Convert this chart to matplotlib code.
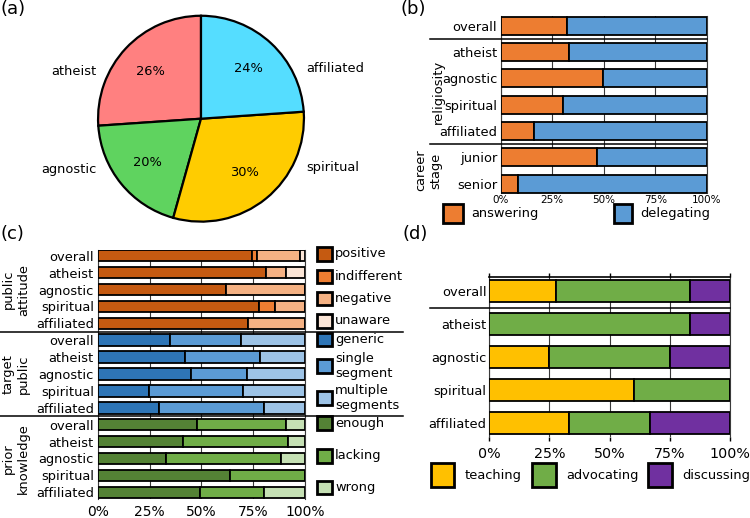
import matplotlib
matplotlib.use('Agg')
import matplotlib.pyplot as plt
import numpy as np
from matplotlib.patches import Rectangle

plt.rcParams['font.family'] = ['DejaVu Sans']

# ---------------- data ----------------
pie_labels = ['atheist', 'agnostic', 'spiritual', 'affiliated']
pie_counts = [12, 9, 14, 11]
pie_colors = ['#FF8080', '#5FD35F', '#FFCC00', '#55DDFF']

b_rows = ['overall', 'atheist', 'agnostic', 'spiritual', 'affiliated', 'junior', 'senior']
b_answering = [32, 33, 49.5, 30, 16, 46.5, 8.5]
b_delegating = [68, 67, 50.5, 70, 84, 53.5, 91.5]
b_series = ['answering', 'delegating']
b_colors = ['#ED7D31', '#5B9BD5']

c_groups = ['overall', 'atheist', 'agnostic', 'spiritual', 'affiliated']
att_positive = [74.5, 81, 62, 78, 72.5]
att_indifferent = [2.5, 0, 0, 7.5, 0]
att_negative = [20.5, 10, 38, 14.5, 27.5]
att_unaware = [2.5, 9, 0, 0, 0]
tgt_generic = [35, 42, 45, 24.5, 29.5]
tgt_single = [34, 36.5, 27, 45.5, 50.5]
tgt_multiple = [31, 21.5, 28, 30, 20]
kn_enough = [48, 41, 33, 64, 49.5]
kn_lacking = [43, 51, 55.5, 36, 30.5]
kn_wrong = [9, 8, 11.5, 0, 20]
c_att_labels = ['positive', 'indifferent', 'negative', 'unaware']
c_att_colors = ['#C55A11', '#ED7D31', '#F4B183', '#FBE5D6']
c_tgt_labels = ['generic', 'single\nsegment', 'multiple\nsegments']
c_tgt_colors = ['#2E75B6', '#5B9BD5', '#9DC3E6']
c_kn_labels = ['enough', 'lacking', 'wrong']
c_kn_colors = ['#548235', '#70AD47', '#C5E0B4']
c_sections = ['public\nattitude', 'target\npublic', 'prior\nknowledge']

d_rows = ['overall', 'atheist', 'agnostic', 'spiritual', 'affiliated']
d_teaching = [27.8, 0, 25, 60, 33.3]
d_advocating = [55.6, 83.3, 50, 40, 33.3]
d_discussing = [16.7, 16.7, 25, 0, 33.4]
d_series = ['teaching', 'advocating', 'discussing']
d_colors = ['#FFC000', '#70AD47', '#7030A0']

xticks = [0, 25, 50, 75, 100]
xticklabels = ['0%', '25%', '50%', '75%', '100%']

# ---------------- layout helpers ----------------
W, H = 750, 518
fig = plt.figure(figsize=(W / 100, H / 100), dpi=100)
FS = 9.4
BAR_H = 0.68


def axes_px(l, t, r, b):
    return fig.add_axes([l / W, 1 - b / H, (r - l) / W, (b - t) / H])


def fig_rect(l, t, r, b, color):
    fig.patches.append(Rectangle((l / W, 1 - b / H), (r - l) / W, (b - t) / H,
                                 transform=fig.transFigure, facecolor=color,
                                 edgecolor='black', linewidth=2))


def fig_text(x, y, s, **kw):
    fig.text(x / W, 1 - y / H, s, fontsize=FS, **kw)


def stacked(ax, labels, series, colors, pad):
    n = len(labels)
    y = np.arange(n)
    left = np.zeros(n)
    for vals, c in zip(series, colors):
        vals = np.asarray(vals, dtype=float)
        ax.barh(y, vals, left=left, height=BAR_H, color=c,
                edgecolor='black', linewidth=1.3, zorder=3)
        left += vals
    ax.set_ylim(n - 1 + BAR_H / 2 + pad, -BAR_H / 2 - pad)
    ax.set_xlim(0, 100)
    ax.set_yticks(y)
    ax.set_yticklabels(labels, fontsize=FS)
    ax.set_xticks(xticks)
    ax.set_xticklabels(xticklabels)
    ax.xaxis.grid(True, color='#3a3a3a', linewidth=0.8, zorder=0)
    ax.set_axisbelow(True)
    for s in ['top', 'bottom']:
        ax.spines[s].set_visible(False)
    for s in ['left', 'right']:
        ax.spines[s].set_color('#3a3a3a')
        ax.spines[s].set_linewidth(0.8)
    ax.tick_params(axis='y', length=0)


def sep(ax, y, x0px, x1px, axl, axr):
    w = axr - axl
    ax.axhline(y, xmin=(x0px - axl) / w, xmax=(x1px - axl) / w,
               color='black', linewidth=1.1, clip_on=False, zorder=5)

# ---------------- (a) pie ----------------
axa = axes_px(96, 13.7, 306, 223.7)
wedges, _, autotexts = axa.pie(pie_counts, colors=pie_colors, startangle=90,
                               counterclock=True, radius=1,
                               autopct=lambda p: '%d%%' % round(p),
                               pctdistance=0.67,
                               wedgeprops=dict(edgecolor='black', linewidth=1.6),
                               textprops=dict(fontsize=FS))
axa.set_xlim(-1.02, 1.02)
axa.set_ylim(-1.02, 1.02)
axa.set_aspect('equal')
lab_pos = {'atheist': (-1.02, 0.46, 'right'), 'agnostic': (-1.02, -0.49, 'right'),
           'spiritual': (1.02, -0.47, 'left'), 'affiliated': (1.02, 0.49, 'left')}
for name in pie_labels:
    x, y, ha = lab_pos[name]
    axa.text(x, y, name, ha=ha, va='center', fontsize=FS)

# ---------------- (b) ----------------
bl, br, bt, bb = 500.7, 707, 16, 193.5
axb = axes_px(bl, bt, br, bb)
stacked(axb, b_rows, [b_answering, b_delegating], b_colors, 0.03)
axb.tick_params(axis='x', length=0, pad=1, labelsize=7.5)
axb.tick_params(axis='y', pad=2.5)
sep(axb, 0.5, 430, br, bl, br)
sep(axb, 4.5, 430, br, bl, br)
axb.text((438 - bl) / (br - bl), 2.5, 'religiosity', rotation=90, ha='center', va='center',
         fontsize=FS, transform=axb.get_yaxis_transform())
axb.text((428.5 - bl) / (br - bl), 5.5, 'career\nstage', rotation=90, ha='center', va='center',
         fontsize=FS, multialignment='center', transform=axb.get_yaxis_transform())
fig_rect(443, 204, 463, 223, b_colors[0])
fig_text(471, 213.5, b_series[0], va='center')
fig_rect(614, 204, 632, 223, b_colors[1])
fig_text(640, 213.5, b_series[1], va='center')

# ---------------- (c) ----------------
cl, cr, ct, cb = 98, 305, 249.5, 498.5
axc = axes_px(cl, ct, cr, cb)
c_rows = c_groups * 3
seg_att = [att_positive, att_indifferent, att_negative, att_unaware]
seg_tgt = [tgt_generic, tgt_single, tgt_multiple]
seg_kn = [kn_enough, kn_lacking, kn_wrong]
n = len(c_rows)
y = np.arange(n)
blocks = [(seg_att, c_att_colors), (seg_tgt, c_tgt_colors), (seg_kn, c_kn_colors)]
for bi, (segs, cols) in enumerate(blocks):
    yy = y[bi * 5:(bi + 1) * 5]
    left = np.zeros(5)
    for vals, c in zip(segs, cols):
        vals = np.asarray(vals, dtype=float)
        axc.barh(yy, vals, left=left, height=BAR_H, color=c,
                 edgecolor='black', linewidth=1.3, zorder=3)
        left += vals
pad = 0.03
axc.set_ylim(n - 1 + BAR_H / 2 + pad, -BAR_H / 2 - pad)
axc.set_xlim(0, 100)
axc.set_yticks(y)
axc.set_yticklabels(c_rows, fontsize=FS)
axc.set_xticks(xticks)
axc.set_xticklabels(xticklabels)
axc.xaxis.grid(True, color='#3a3a3a', linewidth=0.8, zorder=0)
axc.set_axisbelow(True)
for s in ['top', 'bottom']:
    axc.spines[s].set_visible(False)
for s in ['left', 'right']:
    axc.spines[s].set_color('#3a3a3a')
    axc.spines[s].set_linewidth(0.8)
axc.tick_params(axis='y', length=0, pad=3)
axc.tick_params(axis='x', length=0, pad=5, labelsize=10)
sep(axc, 4.5, 0, 403, cl, cr)
sep(axc, 9.5, 0, 403, cl, cr)
for i, lab in enumerate(c_sections):
    axc.text((16 - cl) / (cr - cl), 5 * i + 2, lab, rotation=90, ha='center', va='center',
             fontsize=FS, multialignment='center', transform=axc.get_yaxis_transform())
c_leg_labels = c_att_labels + c_tgt_labels + c_kn_labels
c_leg_colors = c_att_colors + c_tgt_colors + c_kn_colors
c_leg_y = [254, 276.5, 298.5, 321, 339.5, 366, 398, 423, 456, 487.5]
for lab, col, yc in zip(c_leg_labels, c_leg_colors, c_leg_y):
    fig_rect(316.7, yc - 6.8, 331.7, yc + 6.8, col)
    fig_text(335, yc, lab, va='center', linespacing=1.15)

# ---------------- (d) ----------------
dl, dr, dt, db = 489.3, 730, 277, 437
axd = axes_px(dl, dt, dr, db)
stacked(axd, d_rows, [d_teaching, d_advocating, d_discussing], d_colors, 0.09)
axd.spines['top'].set_visible(True)
axd.spines['top'].set_color('black')
axd.spines['top'].set_linewidth(1.2)
axd.tick_params(axis='x', top=True, length=3, width=1, pad=4, labelsize=10.3)
axd.tick_params(axis='y', pad=2)
sep(axd, 0.5, 430, dr, dl, dr)
d_leg_x = [(431, 454.3, 465), (531.7, 556, 566), (648, 671.7, 682)]
for lab, col, (x0, x1, xt) in zip(d_series, d_colors, d_leg_x):
    fig_rect(x0, 463.3, x1, 487.3, col)
    fig_text(xt, 475.5, lab, va='center')

# ---------------- panel labels ----------------
for s, x, yy in [('(a)', 0, 0), ('(b)', 401, 0), ('(c)', 0, 225), ('(d)', 403, 225)]:
    fig.text(x / W, 1 - yy / H, s, fontsize=13, ha='left', va='top')

fig.savefig('out.png', dpi=100)
